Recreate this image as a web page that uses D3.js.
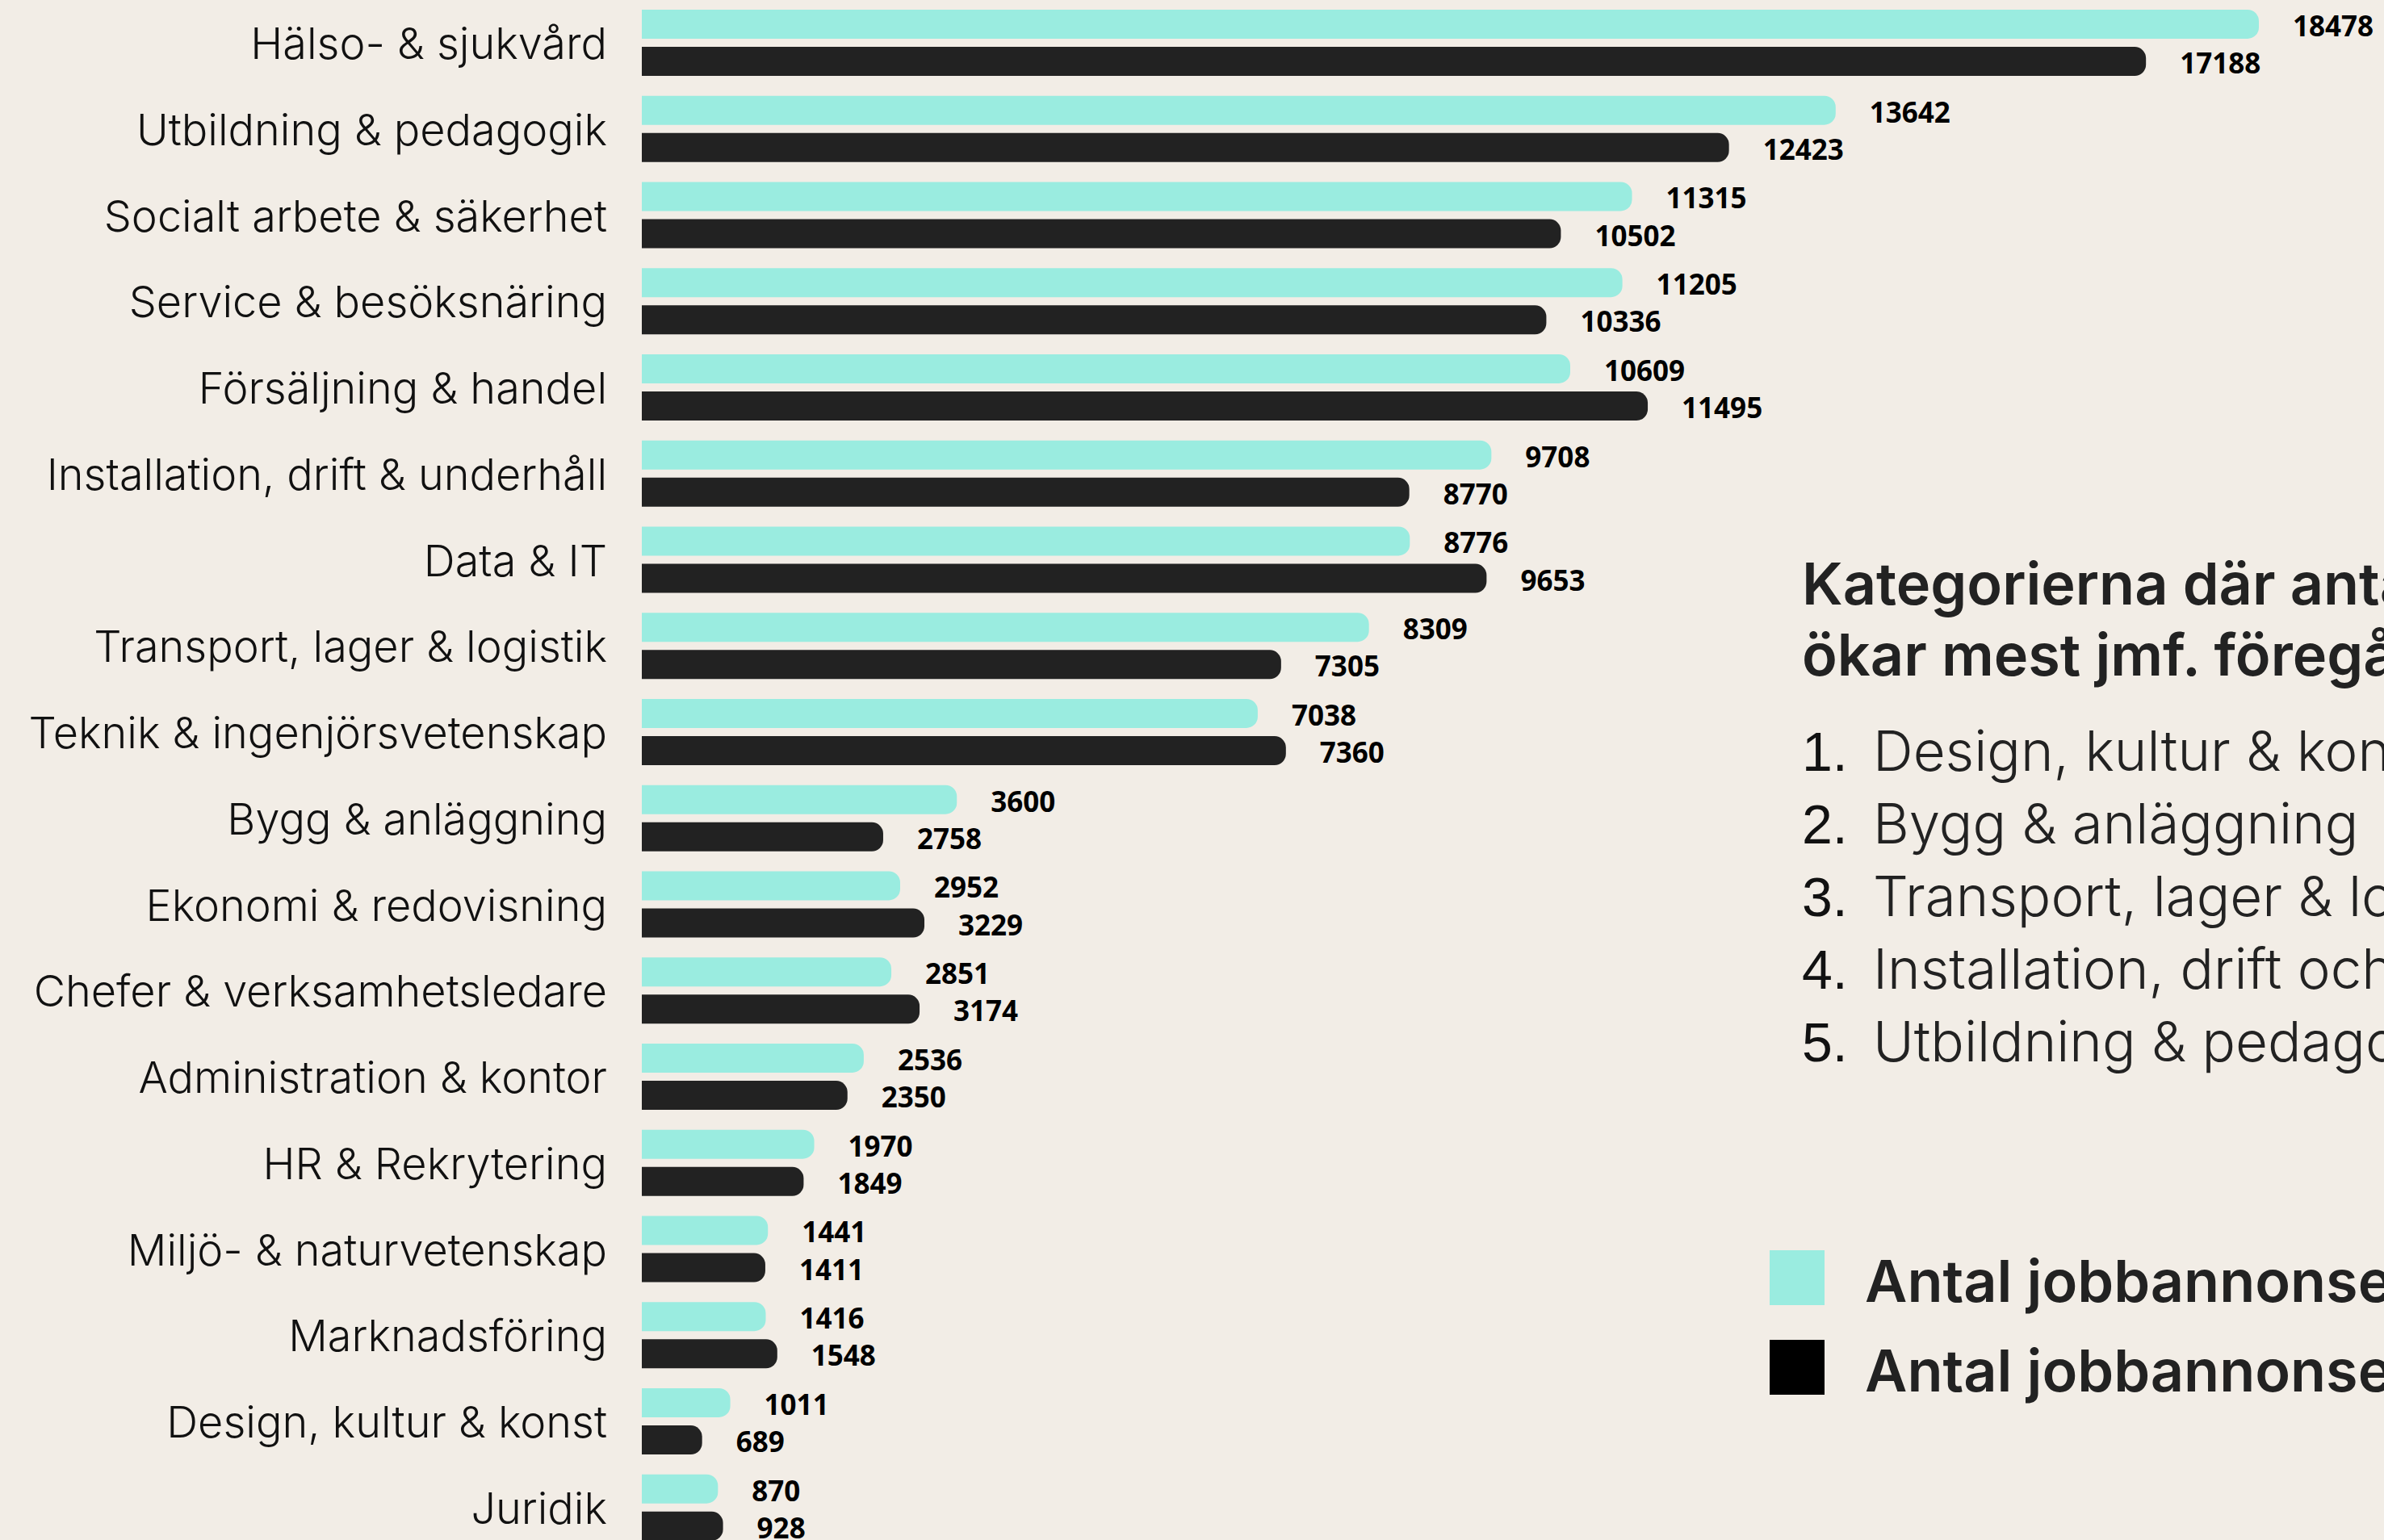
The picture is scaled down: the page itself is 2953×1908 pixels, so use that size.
<!DOCTYPE html>
<html>
<head>
<meta charset="utf-8">
<script src="https://cdn.jsdelivr.net/npm/d3@7"></script>
<style>
  html, body { margin: 0; padding: 0; background: #f2ede6; overflow: hidden; }
  svg { display: block; }
</style>
</head>
<body>
<svg id="chart" width="2953" height="1908"></svg>
<script>
const categories = [
  "Hälso- & sjukvård", "Utbildning & pedagogik", "Socialt arbete & säkerhet",
  "Service & besöksnäring", "Försäljning & handel", "Installation, drift & underhåll",
  "Data & IT", "Transport, lager & logistik", "Teknik & ingenjörsvetenskap",
  "Bygg & anläggning", "Ekonomi & redovisning", "Chefer & verksamhetsledare",
  "Administration & kontor", "HR & Rekrytering", "Miljö- & naturvetenskap",
  "Marknadsföring", "Design, kultur & konst", "Juridik"
];
const currentYear = [18478, 13642, 11315, 11205, 10609, 9708, 8776, 8309, 7038, 3600, 2952, 2851, 2536, 1970, 1441, 1416, 1011, 870];
const previousYear = [17188, 12423, 10502, 10336, 11495, 8770, 9653, 7305, 7360, 2758, 3229, 3174, 2350, 1849, 1411, 1548, 689, 928];
const seriesNames = ["Antal jobbannonser 2024", "Antal jobbannonser 2023"];
const titleLines = ["Kategorierna där antalet jobbannonser", "ökar mest jmf. föregående år"];
const topList = ["Design, kultur & konst", "Bygg & anläggning", "Transport, lager & logistik", "Installation, drift och underhåll", "Utbildning & pedagogik"];

const colors = { cur: "#9aece0", prev: "#222222", legendPrev: "#000000", bg: "#f2ede6" };

const svg = d3.select("#chart");
svg.append("rect").attr("width", 2953).attr("height", 1908).attr("fill", colors.bg);

const x = d3.scaleLinear().domain([0, 18478]).range([795, 2798]);
const y = d3.scaleBand().domain(categories).range([12, 12 + 18 * 106.75]).paddingInner(0);
const sub = d3.scaleBand().domain(["cur", "prev"]).range([0, 82]).paddingInner(0.22);

const rows = categories.map((c, i) => ({ cat: c, cur: currentYear[i], prev: previousYear[i] }));

// rounded-right bar path
function barPath(x0, x1, y0, h, r) {
  const w = x1 - x0;
  r = Math.min(r, w / 2, h / 2);
  return `M${x0},${y0}H${x1 - r}A${r},${r} 0 0 1 ${x1},${y0 + r}V${y0 + h - r}A${r},${r} 0 0 1 ${x1 - r},${y0 + h}H${x0}Z`;
}

const g = svg.append("g");
const row = g.selectAll("g.row").data(rows).join("g").attr("class", "row")
  .attr("transform", d => `translate(0,${y(d.cat)})`);

["cur", "prev"].forEach(key => {
  row.append("path")
    .attr("d", d => barPath(x(0), x(d[key]), sub(key), sub.bandwidth(), 14))
    .attr("fill", colors[key]);
  row.append("text")
    .attr("x", d => x(d[key]) + 42)
    .attr("y", d => sub(key) + sub.bandwidth() / 2 + 15)
    .attr("font-family", "'Noto Sans', sans-serif")
    .attr("font-weight", 700)
    .attr("font-size", 35)
    .attr("fill", "#000")
    .text(d => d[key]);
});

// category labels
row.append("text")
  .attr("x", 752)
  .attr("y", 41 + 20)
  .attr("text-anchor", "end")
  .attr("font-family", "Inter, sans-serif")
  .attr("font-weight", 350)
  .attr("font-size", 54)
  .attr("letter-spacing", 0)
  .attr("fill", "#111")
  .text(d => d.cat);

// right panel: title
const panel = svg.append("g");
panel.selectAll("text.title").data(titleLines).join("text")
  .attr("class", "title")
  .attr("x", 2232)
  .attr("y", (d, i) => 749 + i * 88)
  .attr("font-family", "Inter, sans-serif")
  .attr("font-weight", 600)
  .attr("font-size", 72)
  .attr("letter-spacing", 0)
  .attr("fill", "#222")
  .text(d => d);

const items = panel.selectAll("g.item").data(topList).join("g").attr("class", "item")
  .attr("transform", (d, i) => `translate(0,${955 + i * 90})`);
items.append("text")
  .attr("x", 2232)
  .attr("font-family", "'Liberation Sans', Arial, sans-serif")
  .attr("font-size", 68)
  .attr("fill", "#111")
  .text((d, i) => (i + 1) + ".");
items.append("text")
  .attr("x", 2320)
  .attr("font-family", "Inter, sans-serif")
  .attr("font-weight", 350)
  .attr("font-size", 69)
  .attr("letter-spacing", 0)
  .attr("fill", "#222")
  .text(d => d);

// legend
const legend = svg.append("g");
const legItems = legend.selectAll("g").data(seriesNames).join("g")
  .attr("transform", (d, i) => `translate(2192,${1549 + i * 111})`);
legItems.append("rect")
  .attr("width", 68).attr("height", 68)
  .attr("fill", (d, i) => i === 0 ? colors.cur : colors.legendPrev);
legItems.append("text")
  .attr("x", 118)
  .attr("y", 64)
  .attr("font-family", "Inter, sans-serif")
  .attr("font-weight", 600)
  .attr("font-size", 72)
  .attr("letter-spacing", 0)
  .attr("fill", "#222")
  .text(d => d);
</script>
</body>
</html>
